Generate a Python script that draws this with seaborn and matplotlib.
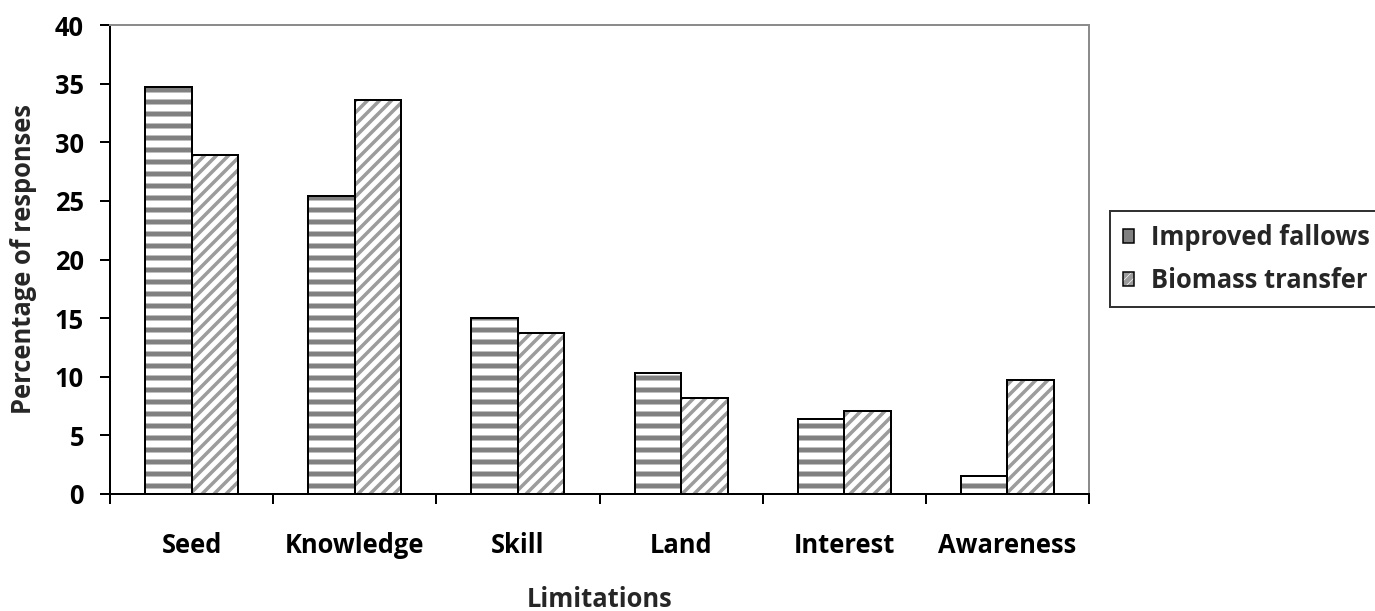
import matplotlib
matplotlib.use("Agg")
import matplotlib.pyplot as plt
import seaborn as sns
import pandas as pd
from matplotlib.patches import Rectangle, Patch
from matplotlib.legend_handler import HandlerTuple

categories = ["Seed", "Knowledge", "Skill", "Land", "Interest", "Awareness"]
improved_fallows = [34.7, 25.4, 15.0, 10.3, 6.4, 1.5]
biomass_transfer = [28.9, 33.6, 13.7, 8.2, 7.1, 9.7]
series_names = ["Improved fallows", "Biomass transfer"]
y_ticks = [0, 5, 10, 15, 20, 25, 30, 35, 40]

sns.set_theme(style="white")
plt.rcParams["font.family"] = ["Open Sans", "DejaVu Sans"]
plt.rcParams["font.weight"] = "bold"
plt.rcParams["hatch.linewidth"] = 5

df = pd.DataFrame({
    "Limitations": categories * 2,
    "value": improved_fallows + biomass_transfer,
    "series": [series_names[0]] * len(categories) + [series_names[1]] * len(categories),
})

DPI = 72
FS = 25.5
fig = plt.figure(figsize=(1375 / DPI, 611 / DPI), dpi=DPI)
ax = fig.add_axes([110 / 1375, 117 / 611, 979 / 1375, 469 / 611])

sns.barplot(data=df, x="Limitations", y="value", hue="series", order=categories,
            hue_order=series_names, width=0.57, gap=0, ax=ax, legend=False,
            palette=["white", "white"], errorbar=None, saturation=1)

hatches = ["-", "//"]
hatch_colors = ["#808080", "#9c9c9c"]
hatch_lws = [5, 3.5]
for cont, h, hc, hlw in zip(ax.containers, hatches, hatch_colors, hatch_lws):
    for bar in cont:
        bar.set_facecolor("white")
        bar.set_hatch(h)
        bar.set_edgecolor(hc)
        bar.set_linewidth(0)
        if hasattr(bar, "set_hatch_linewidth"):
            bar.set_hatch_linewidth(hlw)
        ax.add_patch(Rectangle(bar.get_xy(), bar.get_width(), bar.get_height(),
                               fill=False, edgecolor="black", linewidth=2, zorder=3))

ax.set_xlim(-0.5, len(categories) - 0.5)
ax.set_ylim(0, 40)
ax.set_yticks(y_ticks)
ax.set_yticklabels([str(t) for t in y_ticks], fontsize=FS, fontweight="bold")
ax.set_xticks(range(len(categories)))
ax.set_xticklabels(categories, fontsize=FS, fontweight="bold")
ax.set_xticks([i - 0.5 for i in range(len(categories) + 1)], minor=True)
ax.tick_params(axis="x", which="major", length=0, pad=38, colors="black")
ax.tick_params(axis="x", which="minor", length=10, width=2, direction="out", bottom=True, color="black")
ax.tick_params(axis="y", which="major", length=10, width=2, direction="out", left=True, pad=16, colors="black")

for s in ["left", "bottom"]:
    ax.spines[s].set_color("black")
    ax.spines[s].set_linewidth(2)
for s in ["top", "right"]:
    ax.spines[s].set_color("#8c8c8c")
    ax.spines[s].set_linewidth(2)
    ax.spines[s].set_visible(True)

ax.set_xlabel("Limitations", fontsize=FS, fontweight="bold")
ax.set_ylabel("Percentage of responses", fontsize=FS, fontweight="bold")
ax.xaxis.set_label_coords(0.5, (494 - 586) / 469)
ax.yaxis.set_label_coords((37 - 110) / 979, 0.5)

handles = []
for h, hc in zip(["---", "///"], hatch_colors):
    hp = Patch(facecolor="white", edgecolor=hc, hatch=h, linewidth=0)
    if hasattr(hp, "set_hatch_linewidth"):
        hp.set_hatch_linewidth(3)
    outline = Patch(facecolor="none", edgecolor="black", linewidth=1.5)
    handles.append((hp, outline))
leg = fig.legend(handles, series_names, loc="upper left",
                 bbox_to_anchor=(1110 / 1375, 1 - 211 / 611),
                 handler_map={tuple: HandlerTuple(ndivide=1, pad=0)},
                 fontsize=FS, frameon=True, fancybox=False, edgecolor="black",
                 handlelength=0.45, handleheight=0.45, handletextpad=0.65,
                 borderpad=0.5, labelspacing=0.65, borderaxespad=0)
leg.get_frame().set_linewidth(2)
for t in leg.get_texts():
    t.set_fontweight("bold")

fig.savefig("out.png", dpi=DPI, facecolor="white")
